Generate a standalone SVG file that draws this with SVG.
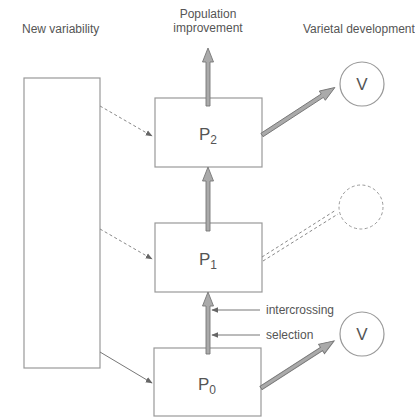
<svg xmlns="http://www.w3.org/2000/svg" width="415" height="418" viewBox="0 0 415 418">
<defs>
<style>
.box{fill:#fff;stroke:#999;stroke-width:1.2}
.lbl{font-family:"Liberation Sans",Arial,sans-serif;font-size:12px;fill:#555}
.p{font-family:"Liberation Sans",Arial,sans-serif;font-size:17px;fill:#555;text-anchor:middle}
.thin{stroke:#777;stroke-width:1;fill:none}
.dash{stroke:#888;stroke-width:1;fill:none;stroke-dasharray:3,2.5}
.fat{fill:#aaa;stroke:#777;stroke-width:0.9}
</style>
<marker id="ah" viewBox="0 0 10 10" refX="9" refY="5" markerWidth="7" markerHeight="7" markerUnits="userSpaceOnUse" orient="auto"><path d="M0,1 L10,5 L0,9 Z" fill="#666"/></marker>
<path id="diagArrow" d="M0,-2 L-72,-2 L-72,-5.5 L-87,0 L-72,5.5 L-72,2 L0,2 Z" class="fat"/>
</defs>
<rect width="415" height="418" fill="#fff"/>
<g id="texts">
<text class="lbl" x="22" y="33">New variability</text>
<text class="lbl" x="208" y="18" text-anchor="middle">Population</text>
<text class="lbl" x="208" y="32" text-anchor="middle">improvement</text>
<text class="lbl" x="303" y="33">Varietal development</text>
</g>
<g id="new-variability"><rect class="box" x="24" y="78" width="76" height="290"/></g>
<g id="P2"><rect class="box" x="155" y="98" width="107" height="69"/><text class="p" x="208" y="140">P<tspan font-size="12" dy="4">2</tspan></text></g>
<g id="P1"><rect class="box" x="155" y="223" width="107" height="69"/><text class="p" x="208" y="265">P<tspan font-size="12" dy="4">1</tspan></text></g>
<g id="P0"><rect class="box" x="154" y="348" width="107" height="68"/><text class="p" x="207" y="390">P<tspan font-size="12" dy="4">0</tspan></text></g>
<g id="V-top"><circle class="box" cx="362" cy="84" r="22"/><text class="p" x="362" y="90" font-size="15">V</text></g>
<g id="V-mid"><circle cx="361" cy="207" r="22" fill="none" stroke="#999" stroke-width="1" stroke-dasharray="3,2.5"/></g>
<g id="V-bot"><circle class="box" cx="362" cy="334" r="22"/><text class="p" x="362" y="340" font-size="15">V</text></g>
<g id="connectors">
<line class="dash" x1="100" y1="106" x2="152" y2="136" marker-end="url(#ah)"/>
<line class="dash" x1="100" y1="229" x2="152" y2="259" marker-end="url(#ah)"/>
<line class="thin" x1="100" y1="352" x2="152" y2="383" marker-end="url(#ah)"/>
<path class="fat" d="M206,106 L206,62 L202.5,62 L208,48 L213.5,62 L210,62 L210,106 Z"/>
<path class="fat" d="M206,231 L206,181 L202.5,181 L208,167 L213.5,181 L210,181 L210,231 Z"/>
<path class="fat" d="M206,354 L206,306 L202.5,306 L208,292 L213.5,306 L210,306 L210,354 Z"/>
<use href="#diagArrow" transform="translate(262,135) rotate(146.9)"/>
<use href="#diagArrow" transform="translate(261,388) rotate(147.2)"/>
<line class="dash" x1="262" y1="257" x2="336" y2="210"/>
<line class="dash" x1="263" y1="261" x2="338" y2="214"/>
<line class="thin" x1="260" y1="310" x2="212" y2="310" marker-end="url(#ah)"/>
<line class="thin" x1="260" y1="335" x2="212" y2="335" marker-end="url(#ah)"/>
</g>
<g id="side-labels">
<text class="lbl" x="266" y="314">intercrossing</text>
<text class="lbl" x="266" y="339">selection</text>
</g>
</svg>
